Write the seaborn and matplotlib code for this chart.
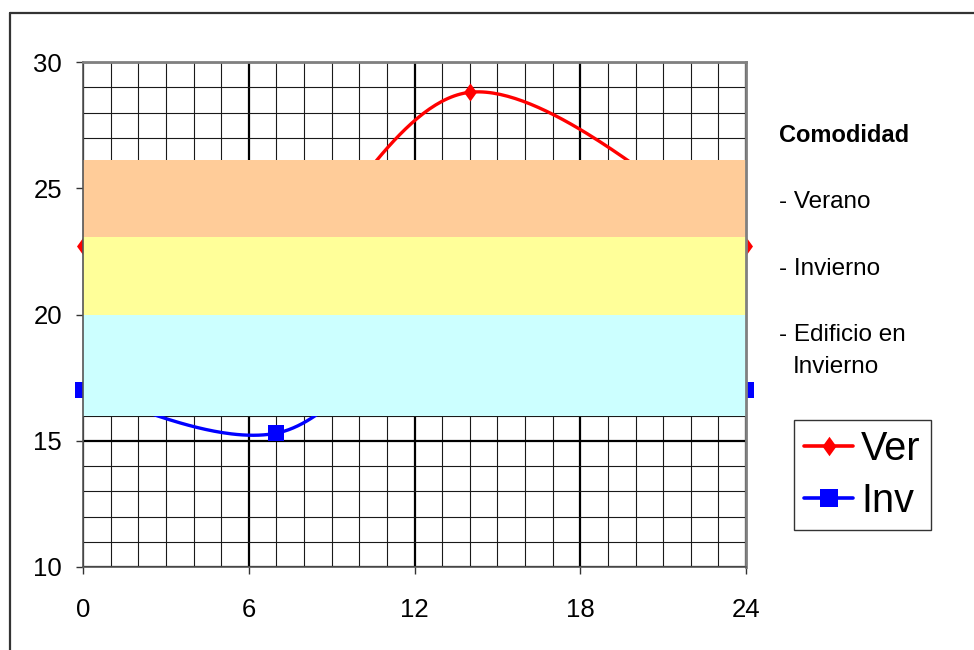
import numpy as np
import pandas as pd
import matplotlib
matplotlib.use("Agg")
import matplotlib.pyplot as plt
from matplotlib.lines import Line2D
from matplotlib.path import Path
from matplotlib.ticker import MultipleLocator
import seaborn as sns

# Hourly temperature profiles (hour of day, degrees)
ver_hours = [0, 6, 14, 24]
ver_temps = [22.7, 20.5, 28.8, 22.7]
inv_hours = [0, 7, 14, 24]
inv_temps = [17.0, 15.3, 20.0, 17.0]

series_names = ["Ver", "Inv"]
series_colors = ["#FF0000", "#0000FF"]

# Comfort bands (lower, upper)
band_labels = ["Verano", "Invierno", "Edificio en Invierno"]
band_lower = [23.05, 20.0, 16.0]
band_upper = [26.1, 23.05, 20.0]
band_colors = ["#FFCC99", "#FFFF99", "#CCFFFF"]

x_ticks = [0, 6, 12, 18, 24]
y_ticks = [10, 15, 20, 25, 30]


def bezier_smooth(xs, ys, n=80):
    """Piecewise cubic Bezier through the points (spreadsheet-style smoothing)."""
    pts = np.column_stack([xs, ys]).astype(float)
    m = len(pts)
    t = np.linspace(0, 1, n)[:, None]
    out = []
    for i in range(m - 1):
        p0 = pts[max(i - 1, 0)]
        p1 = pts[i]
        p2 = pts[i + 1]
        p3 = pts[min(i + 2, m - 1)]
        c1 = p1 + (p2 - p0) / 6.0
        c2 = p2 - (p3 - p1) / 6.0
        seg = ((1 - t) ** 3) * p1 + 3 * ((1 - t) ** 2) * t * c1 \
            + 3 * (1 - t) * t ** 2 * c2 + t ** 3 * p2
        out.append(seg if i == 0 else seg[1:])
    seg = np.vstack(out)
    return seg[:, 0], seg[:, 1]


sns.set_theme(style="white")
plt.rcParams["font.family"] = ["Liberation Sans", "DejaVu Sans"]
plt.rcParams["text.color"] = "black"
plt.rcParams["xtick.color"] = "black"
plt.rcParams["ytick.color"] = "black"
plt.rcParams["xtick.labelcolor"] = "black"
plt.rcParams["ytick.labelcolor"] = "black"

W, H = 974, 650
fig = plt.figure(figsize=(W / 100, H / 100), dpi=100)
ax = fig.add_axes([83 / W, 1 - 567 / H, (746 - 83) / W, (567 - 62) / H])

# Smoothed curves
frames = []
for name, hx, ty in [("Ver", ver_hours, ver_temps), ("Inv", inv_hours, inv_temps)]:
    sx, sy = bezier_smooth(hx, ty)
    frames.append(pd.DataFrame({"hora": sx, "temp": sy, "serie": name}))
curves = pd.concat(frames, ignore_index=True)
sns.lineplot(data=curves, x="hora", y="temp", hue="serie",
             estimator=None, sort=False, palette=dict(zip(series_names, series_colors)),
             linewidth=2.4, legend=False, ax=ax, zorder=2)

diamond = Path([(0, 1), (0.72, 0), (0, -1), (-0.72, 0), (0, 1)],
               [Path.MOVETO, Path.LINETO, Path.LINETO, Path.LINETO, Path.CLOSEPOLY])
ax.plot(ver_hours, ver_temps, linestyle="none", marker=diamond, markersize=13,
        color=series_colors[0], markeredgewidth=0, clip_on=False, zorder=2.5)
ax.plot(inv_hours, inv_temps, linestyle="none", marker="s", markersize=12,
        color=series_colors[1], markeredgewidth=0, clip_on=False, zorder=2.5)

# Comfort bands drawn over the curves
for lo, hi, c in zip(band_lower, band_upper, band_colors):
    ax.axhspan(lo, hi, color=c, lw=0, zorder=3)

ax.set_xlim(0, 24)
ax.set_ylim(10, 30)
ax.set_xticks(x_ticks)
ax.set_yticks(y_ticks)
ax.xaxis.set_minor_locator(MultipleLocator(1))
ax.yaxis.set_minor_locator(MultipleLocator(1))
ax.set_axisbelow(True)
ax.grid(which="major", color="black", linewidth=1.6)
ax.grid(which="minor", color="#1a1a1a", linewidth=0.8)
ax.set_xlabel("")
ax.set_ylabel("")
ax.tick_params(which="major", direction="out", length=5, width=1, color="#333333",
               labelsize=18.5, labelcolor="black", bottom=True, left=True)
ax.tick_params(axis="x", pad=17)
ax.tick_params(axis="y", pad=10)
ax.tick_params(which="minor", length=0)

for side in ["top", "right"]:
    ax.spines[side].set_color("#808080")
    ax.spines[side].set_linewidth(2)
for side in ["left", "bottom"]:
    ax.spines[side].set_color("#555555")
    ax.spines[side].set_linewidth(1.2)
for sp in ax.spines.values():
    sp.set_zorder(4)

# Side notes
fig.text(779 / W, 1 - 142 / H, "Comodidad", fontsize=17, fontweight="bold",
         va="baseline", ha="left")
fig.text(779 / W, 1 - 208 / H, "- " + band_labels[0], fontsize=17.5, va="baseline", ha="left")
fig.text(779 / W, 1 - 275 / H, "- " + band_labels[1], fontsize=17.5, va="baseline", ha="left")
fig.text(779 / W, 1 - 341 / H, "- Edificio en", fontsize=17.5, va="baseline", ha="left")
fig.text(793 / W, 1 - 373 / H, "Invierno", fontsize=17.5, va="baseline", ha="left")

# Legend
handles = [
    Line2D([0], [0], color=series_colors[0], lw=2.6, marker=diamond, markersize=14,
           markeredgewidth=0),
    Line2D([0], [0], color=series_colors[1], lw=2.6, marker="s", markersize=13,
           markeredgewidth=0),
]
leg = fig.legend(handles, series_names, loc="upper left",
                 bbox_to_anchor=(794 / W, 1 - 420 / H), fontsize=28.5,
                 frameon=True, fancybox=False, edgecolor="black",
                 handlelength=1.25, handletextpad=0.2, borderpad=0.25,
                 labelspacing=0.35, borderaxespad=0)
leg.get_frame().set_linewidth(1.0)

# Outer chart frame
fig.add_artist(Line2D([10 / W, 10 / W], [0, 1 - 13 / H], color="#333333", lw=1.6))
fig.add_artist(Line2D([10 / W, 1], [1 - 13 / H, 1 - 13 / H], color="#333333", lw=1.6))

fig.savefig("out.png", dpi=100, facecolor="white")
